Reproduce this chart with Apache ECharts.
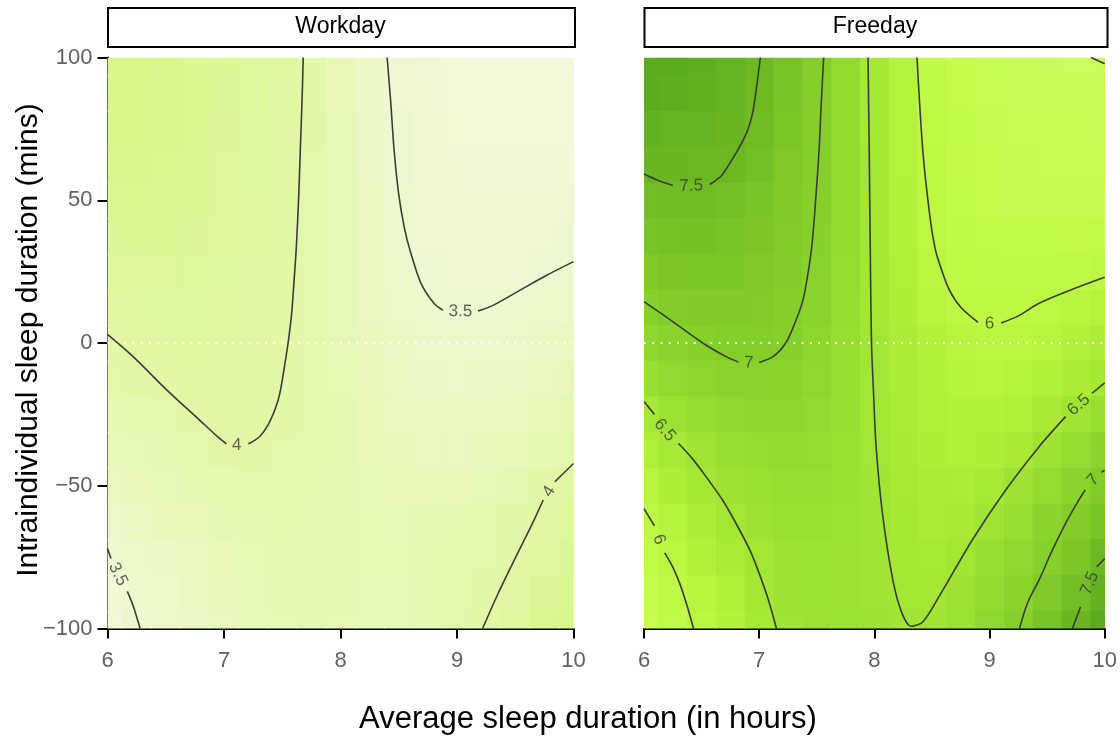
<!DOCTYPE html>
<html>
<head>
<meta charset="utf-8">
<script src="https://cdn.jsdelivr.net/npm/echarts/dist/echarts.min.js"></script>
<style>
  html, body { margin: 0; padding: 0; background: #ffffff; }
  #chart { width: 1120px; height: 742px; }
</style>
</head>
<body>
<div id="chart"></div>
<script>
// Facet names and axis ticks
const panelNames = ['Workday', 'Freeday'];
const xTicks = [6, 7, 8, 9, 10];
const yTicks = [-100, -50, 0, 50, 100];

// Sampling grid of the fitted surface: average sleep (h) x intraindividual sleep (min)
const xCells = [6, 6.25, 6.5, 6.75, 7, 7.25, 7.5, 7.75, 8, 8.25, 8.5, 8.75, 9, 9.25, 9.5, 9.75, 10];
const yCells = [100, 87.5, 75, 62.5, 50, 37.5, 25, 12.5, 0, -12.5, -25, -37.5, -50, -62.5, -75, -87.5, -100];

// Predicted score on workdays, one row per yCells entry
const workdayScore = [
  [4.35, 4.33, 4.30, 4.25, 4.18, 4.12, 4.07, 3.97, 3.80, 3.62, 3.45, 3.38, 3.35, 3.33, 3.32, 3.31, 3.30],
  [4.33, 4.32, 4.29, 4.24, 4.17, 4.11, 4.06, 3.97, 3.80, 3.63, 3.47, 3.39, 3.36, 3.34, 3.33, 3.33, 3.33],
  [4.30, 4.30, 4.27, 4.23, 4.16, 4.10, 4.05, 3.97, 3.81, 3.64, 3.48, 3.40, 3.37, 3.36, 3.35, 3.35, 3.36],
  [4.26, 4.27, 4.25, 4.21, 4.15, 4.09, 4.05, 3.96, 3.82, 3.65, 3.49, 3.42, 3.39, 3.38, 3.38, 3.38, 3.39],
  [4.22, 4.23, 4.22, 4.19, 4.14, 4.08, 4.04, 3.96, 3.82, 3.67, 3.52, 3.44, 3.41, 3.40, 3.41, 3.42, 3.43],
  [4.17, 4.19, 4.19, 4.16, 4.12, 4.07, 4.03, 3.95, 3.83, 3.68, 3.53, 3.46, 3.44, 3.43, 3.44, 3.46, 3.48],
  [4.12, 4.14, 4.15, 4.13, 4.10, 4.05, 4.02, 3.94, 3.83, 3.70, 3.58, 3.48, 3.46, 3.45, 3.46, 3.49, 3.52],
  [4.05, 4.08, 4.10, 4.10, 4.07, 4.04, 4.03, 3.93, 3.83, 3.72, 3.61, 3.52, 3.48, 3.50, 3.53, 3.57, 3.60],
  [3.98, 4.03, 4.06, 4.07, 4.06, 4.04, 4.01, 3.93, 3.83, 3.74, 3.65, 3.58, 3.55, 3.56, 3.59, 3.64, 3.69],
  [3.93, 3.97, 4.01, 4.03, 4.04, 4.03, 4.00, 3.93, 3.84, 3.76, 3.69, 3.63, 3.61, 3.62, 3.65, 3.71, 3.77],
  [3.86, 3.90, 3.94, 4.00, 4.02, 4.01, 3.98, 3.92, 3.85, 3.78, 3.72, 3.68, 3.67, 3.69, 3.73, 3.79, 3.87],
  [3.79, 3.83, 3.88, 3.93, 3.98, 3.99, 3.96, 3.91, 3.85, 3.80, 3.76, 3.73, 3.73, 3.75, 3.80, 3.87, 3.96],
  [3.72, 3.76, 3.81, 3.86, 3.91, 3.93, 3.92, 3.89, 3.85, 3.82, 3.79, 3.78, 3.79, 3.82, 3.88, 3.98, 4.05],
  [3.60, 3.67, 3.74, 3.80, 3.85, 3.88, 3.89, 3.88, 3.86, 3.84, 3.83, 3.85, 3.88, 3.92, 3.97, 4.03, 4.12],
  [3.49, 3.58, 3.66, 3.73, 3.80, 3.84, 3.87, 3.87, 3.86, 3.84, 3.84, 3.87, 3.92, 3.96, 4.00, 4.08, 4.17],
  [3.42, 3.53, 3.61, 3.69, 3.76, 3.81, 3.85, 3.86, 3.85, 3.83, 3.83, 3.87, 3.93, 3.98, 4.05, 4.16, 4.24],
  [3.33, 3.48, 3.56, 3.64, 3.72, 3.79, 3.84, 3.86, 3.84, 3.82, 3.82, 3.87, 3.94, 4.01, 4.12, 4.20, 4.28]
];

// Predicted score on free days, one row per yCells entry
const freedayScore = [
  [7.85, 7.80, 7.72, 7.62, 7.50, 7.30, 7.05, 6.75, 6.44, 6.13, 5.90, 5.77, 5.68, 5.60, 5.55, 5.51, 5.48],
  [7.78, 7.74, 7.67, 7.59, 7.48, 7.28, 7.04, 6.75, 6.44, 6.14, 5.92, 5.79, 5.71, 5.64, 5.60, 5.57, 5.55],
  [7.65, 7.62, 7.60, 7.55, 7.45, 7.25, 7.03, 6.75, 6.45, 6.15, 5.93, 5.82, 5.74, 5.69, 5.66, 5.65, 5.64],
  [7.56, 7.55, 7.54, 7.51, 7.38, 7.20, 7.02, 6.75, 6.46, 6.17, 5.96, 5.84, 5.77, 5.72, 5.70, 5.69, 5.69],
  [7.42, 7.44, 7.45, 7.38, 7.28, 7.14, 6.99, 6.74, 6.47, 6.20, 5.98, 5.87, 5.80, 5.76, 5.74, 5.74, 5.75],
  [7.30, 7.33, 7.35, 7.30, 7.22, 7.11, 6.97, 6.74, 6.48, 6.22, 6.00, 5.90, 5.85, 5.82, 5.82, 5.83, 5.86],
  [7.16, 7.22, 7.25, 7.24, 7.17, 7.08, 6.95, 6.73, 6.49, 6.26, 6.05, 5.95, 5.90, 5.89, 5.90, 5.94, 5.99],
  [6.98, 7.08, 7.12, 7.13, 7.10, 7.03, 6.90, 6.71, 6.49, 6.28, 6.10, 6.00, 5.97, 5.97, 6.01, 6.07, 6.15],
  [6.85, 6.93, 7.00, 7.04, 7.05, 7.00, 6.85, 6.68, 6.51, 6.33, 6.20, 6.10, 6.04, 6.05, 6.10, 6.18, 6.30],
  [6.65, 6.77, 6.86, 6.93, 6.95, 6.92, 6.82, 6.67, 6.51, 6.34, 6.22, 6.14, 6.12, 6.15, 6.22, 6.33, 6.47],
  [6.45, 6.60, 6.72, 6.80, 6.84, 6.83, 6.77, 6.65, 6.50, 6.35, 6.24, 6.19, 6.19, 6.26, 6.38, 6.53, 6.66],
  [6.27, 6.43, 6.55, 6.65, 6.72, 6.74, 6.72, 6.63, 6.51, 6.38, 6.28, 6.25, 6.28, 6.40, 6.56, 6.72, 6.90],
  [6.10, 6.28, 6.46, 6.57, 6.64, 6.68, 6.68, 6.61, 6.52, 6.41, 6.32, 6.30, 6.43, 6.56, 6.72, 6.92, 7.10],
  [5.96, 6.14, 6.30, 6.48, 6.58, 6.63, 6.64, 6.60, 6.53, 6.44, 6.37, 6.40, 6.52, 6.68, 6.88, 7.07, 7.28],
  [5.85, 6.03, 6.20, 6.37, 6.50, 6.58, 6.60, 6.58, 6.53, 6.46, 6.43, 6.50, 6.65, 6.82, 7.00, 7.22, 7.50],
  [5.77, 5.93, 6.08, 6.25, 6.46, 6.56, 6.60, 6.58, 6.54, 6.50, 6.49, 6.58, 6.75, 6.92, 7.15, 7.40, 7.64],
  [5.70, 5.85, 6.04, 6.20, 6.42, 6.54, 6.58, 6.60, 6.57, 6.53, 6.52, 6.60, 6.82, 7.00, 7.30, 7.55, 7.78]
];

// Iso-lines on workdays: each level split in two where its label sits
const wd4TopA = [[6, 3], [6.22, -4.8], [6.51, -16.5], [6.79, -27], [6.95, -33], [7.02, -35.3]];
const wd4TopB = [[7.21, -35.3], [7.3, -33], [7.37, -29.3], [7.44, -23], [7.48, -17.5], [7.52, -8], [7.55, 0], [7.58, 10], [7.6, 21], [7.62, 33], [7.64, 50], [7.655, 67.6], [7.67, 85], [7.68, 100]];
const wd35TopA = [[8.4, 100], [8.43, 85], [8.46, 67.6], [8.5, 52], [8.55, 40], [8.6, 32], [8.69, 21], [8.8, 14], [8.88, 11.4]];
const wd35TopB = [[9.18, 11.2], [9.3, 13], [9.52, 18], [9.75, 23.3], [10, 28.5]];
const wd4LowA = [[9.22, -100], [9.35, -88], [9.52, -73.7], [9.65, -63], [9.74, -55]];
const wd4LowB = [[9.84, -48.6], [10, -42.2]];
const wd35LowA = [[6, -72], [6.03, -75.5]];
const wd35LowB = [[6.17, -87], [6.22, -92], [6.28, -100]];
const workdayLevels = ['4', '3.5', '4', '3.5'];
const workdayLabelAt = [[7.11, -36], [9.03, 11], [9.79, -52], [6.09, -81]];
const workdayLines = [[wd4TopA, wd4TopB], [wd35TopA, wd35TopB], [wd4LowA, wd4LowB], [wd35LowA, wd35LowB]];

// Iso-lines on free days
const fd75TopA = [[6, 59.2], [6.12, 57], [6.25, 55.2]];
const fd75TopB = [[6.57, 55.5], [6.67, 58.5], [6.745, 63], [6.82, 68], [6.89, 73.5], [6.94, 80], [6.97, 87.5], [7.01, 100]];
const fd7MidA = [[6, 14.5], [6.25, 7.5], [6.51, 0], [6.7, -4.5], [6.82, -6.7]];
const fd7MidB = [[7.0, -6.8], [7.12, -4.8], [7.23, 0], [7.31, 7], [7.38, 15], [7.43, 26], [7.46, 35], [7.49, 50], [7.52, 67.6], [7.54, 85], [7.56, 100]];
const fd65A = [[7.945, 100], [7.955, 67.6], [7.965, 30], [7.975, 0], [7.99, -15], [8.015, -36.3], [8.07, -59.7], [8.16, -83], [8.24, -94.7], [8.32, -99.2], [8.42, -97.7], [8.56, -88.9], [8.85, -69], [9.14, -51.5], [9.43, -36.3], [9.66, -25.8]];
const fd65B = [[9.89, -17.6], [10, -14]];
const fd6TopA = [[8.37, 100], [8.42, 67.6], [8.48, 45], [8.53, 32.6], [8.58, 26], [8.65, 18.6], [8.75, 12.5], [8.9, 7.2]];
const fd6TopB = [[9.1, 7.0], [9.25, 9.5], [9.43, 13.9], [9.7, 18.5], [10, 23]];
const fd65LowA = [[6, -20.5], [6.09, -25]];
const fd65LowB = [[6.3, -35.2], [6.42, -40.5], [6.54, -46.9], [6.69, -55.5], [6.83, -65.5], [6.93, -73.5], [7.0, -80.7], [7.08, -90], [7.15, -100]];
const fd6LowA = [[6, -58], [6.09, -64]];
const fd6LowB = [[6.18, -73.5], [6.25, -78.5], [6.31, -84.2], [6.37, -91.5], [6.43, -100]];
const fd7LowA = [[9.26, -100], [9.33, -91], [9.43, -83], [9.54, -73], [9.66, -63.2], [9.76, -56], [9.83, -51.5]];
const fd7LowB = [[9.97, -45.3], [10, -44.5]];
const fd75LowA = [[9.72, -100], [9.79, -92.4]];
const fd75LowB = [[9.93, -78.4], [10, -75.5]];
const fd55Corner = [[9.88, 100], [10, 97.8]];
const freedayLevels = ['7.5', '7', '6.5', '6', '6.5', '6', '7', '7.5'];
const freedayLabelAt = [[6.41, 55], [6.91, -7], [9.775, -21.7], [9.0, 6.8], [6.18, -30.5], [6.13, -68.8], [9.9, -48], [9.87, -84.2]];
const freedayLines = [[fd75TopA, fd75TopB], [fd7MidA, fd7MidB], [fd65A, fd65B], [fd6TopA, fd6TopB], [fd65LowA, fd65LowB], [fd6LowA, fd6LowB], [fd7LowA, fd7LowB], [fd75LowA, fd75LowB]];
const freedayOpenLines = [fd55Corner];

// Colour ramp from pale cream through lime to deep green
const scoreColors = ['#f4f9df', '#eef8cf', '#e8f8bc', '#e1f8a6', '#daf790', '#d6f881', '#d3f977', '#d0fa6e',
  '#cdfb64', '#cafc5a', '#c6fc4f', '#bdf743', '#b0ef3a', '#a2e634', '#93db2f', '#86d02b', '#7bc627',
  '#6cb923', '#5dac1f', '#55a51d'];

const FONT = '"Liberation Sans", Arial, Helvetica, sans-serif';
const LINE_COLOR = '#3b3b3b';

const stepX = xCells[1] - xCells[0];
const stepY = yCells[0] - yCells[1];
const xLo = xCells[0], xHi = xCells[xCells.length - 1];
const yLo = yCells[yCells.length - 1], yHi = yCells[0];

function cellData(z) {
  const out = [];
  yCells.forEach((y, r) => xCells.forEach((x, c) => out.push([x, y, z[r][c]])));
  return out;
}

function renderCell(params, api) {
  const x = api.value(0), y = api.value(1);
  const x0 = Math.max(xLo, x - stepX / 2), x1 = Math.min(xHi, x + stepX / 2);
  const y0 = Math.max(yLo, y - stepY / 2), y1 = Math.min(yHi, y + stepY / 2);
  const a = api.coord([x0, y1]);
  const b = api.coord([x1, y0]);
  return {
    type: 'rect',
    shape: { x: a[0], y: a[1], width: b[0] - a[0] + 0.8, height: b[1] - a[1] + 0.8 },
    style: { fill: api.visual('color') }
  };
}

const grids = [
  { left: 107.5, top: 57.5, width: 466, height: 571 },
  { left: 644, top: 57.5, width: 462, height: 571 }
];

function xAxisFor(i) {
  return {
    type: 'value', gridIndex: i, min: xTicks[0], max: xTicks[xTicks.length - 1], interval: 1,
    axisLine: { show: true, onZero: false, lineStyle: { color: '#000', width: 2 } },
    axisTick: { show: true, length: 10, lineStyle: { color: '#000', width: 2 } },
    axisLabel: { color: '#616161', fontSize: 22, fontFamily: FONT, margin: 21 },
    splitLine: { show: false }
  };
}
function yAxisFor(i) {
  return {
    type: 'value', gridIndex: i, min: yTicks[0], max: yTicks[yTicks.length - 1], interval: 50,
    show: i === 0,
    axisLine: { show: true, onZero: false, lineStyle: { color: '#000', width: 2 } },
    axisTick: { show: true, length: 10, lineStyle: { color: '#000', width: 2 } },
    axisLabel: {
      color: '#616161', fontSize: 22, fontFamily: FONT, margin: 15,
      formatter: v => String(v).replace('-', '\u2212')
    },
    splitLine: { show: false }
  };
}

function lineSeries(i, pts) {
  return {
    type: 'line', xAxisIndex: i, yAxisIndex: i, data: pts,
    symbol: 'none', smooth: 0.3, silent: true, z: 4,
    lineStyle: { color: LINE_COLOR, width: 1.6 }
  };
}

function zeroSeries(i) {
  return {
    type: 'line', xAxisIndex: i, yAxisIndex: i,
    data: [[xTicks[0], 0], [xTicks[xTicks.length - 1], 0]],
    symbol: 'none', silent: true, z: 3,
    lineStyle: { color: 'rgba(255,255,255,0.95)', width: 1.8, type: [1.8, 6.5] }
  };
}

function labelSeries(i, levels, at, rotations) {
  return {
    type: 'scatter', xAxisIndex: i, yAxisIndex: i, symbolSize: 1, silent: true, z: 5,
    itemStyle: { color: 'rgba(0,0,0,0)' },
    label: { show: true, position: 'inside', formatter: '{b}', color: LINE_COLOR, fontSize: 17, fontFamily: FONT },
    data: levels.map((lv, k) => ({ name: lv, value: at[k], label: { rotate: rotations ? rotations[k] : 0 } }))
  };
}

function buildSeries(rotW, rotF) {
  const s = [
    { type: 'custom', xAxisIndex: 0, yAxisIndex: 0, data: cellData(workdayScore), renderItem: renderCell, encode: { x: 0, y: 1 }, clip: true, silent: true, z: 1 },
    { type: 'custom', xAxisIndex: 1, yAxisIndex: 1, data: cellData(freedayScore), renderItem: renderCell, encode: { x: 0, y: 1 }, clip: true, silent: true, z: 1 },
    zeroSeries(0), zeroSeries(1)
  ];
  workdayLines.forEach(parts => parts.forEach(p => s.push(lineSeries(0, p))));
  freedayLines.forEach(parts => parts.forEach(p => s.push(lineSeries(1, p))));
  freedayOpenLines.forEach(p => s.push(lineSeries(1, p)));
  s.push(labelSeries(0, workdayLevels, workdayLabelAt, rotW));
  s.push(labelSeries(1, freedayLevels, freedayLabelAt, rotF));
  return s;
}

const stripGraphics = [];
grids.forEach((g, i) => {
  stripGraphics.push({
    type: 'rect', left: g.left - 0.5, top: 7,
    shape: { width: g.width + 1, height: 39 },
    style: { fill: '#ffffff', stroke: '#000000', lineWidth: 2 }
  });
  stripGraphics.push({
    type: 'text', x: g.left + g.width / 2, y: 27,
    style: { text: panelNames[i], fill: '#000', font: '23px ' + FONT, textAlign: 'center', textVerticalAlign: 'middle', align: 'center', verticalAlign: 'middle' }
  });
});
stripGraphics.push({
  type: 'text', x: 588, y: 719,
  style: { text: 'Average sleep duration (in hours)', fill: '#000', font: '31px ' + FONT, textAlign: 'center', textVerticalAlign: 'middle', align: 'center', verticalAlign: 'middle' }
});
stripGraphics.push({
  type: 'text', x: 29, y: 340, rotation: Math.PI / 2,
  style: { text: 'Intraindividual sleep duration (mins)', fill: '#000', font: '30px ' + FONT, textAlign: 'center', textVerticalAlign: 'middle', align: 'center', verticalAlign: 'middle' }
});

const option = {
  animation: false,
  backgroundColor: '#ffffff',
  grid: grids,
  xAxis: [xAxisFor(0), xAxisFor(1)],
  yAxis: [yAxisFor(0), yAxisFor(1)],
  visualMap: {
    type: 'continuous', show: false, dimension: 2, seriesIndex: [0, 1],
    min: 3.25, max: 8.0, inRange: { color: scoreColors }
  },
  graphic: stripGraphics,
  series: buildSeries(null, null)
};

const chart = echarts.init(document.getElementById('chart'), null, { renderer: 'canvas' });
chart.setOption(option);

// Orient each level label along its line, using the ends of the gap it fills
function rotationsFor(gridIndex, lines) {
  return lines.map(([a, b]) => {
    const pa = chart.convertToPixel({ gridIndex }, a[a.length - 1]);
    const pb = chart.convertToPixel({ gridIndex }, b[0]);
    let dx = pb[0] - pa[0], dy = pb[1] - pa[1];
    if (dx < 0) { dx = -dx; dy = -dy; }
    return -Math.atan2(dy, dx) * 180 / Math.PI;
  });
}
chart.setOption({ series: buildSeries(rotationsFor(0, workdayLines), rotationsFor(1, freedayLines)) });
</script>
</body>
</html>
